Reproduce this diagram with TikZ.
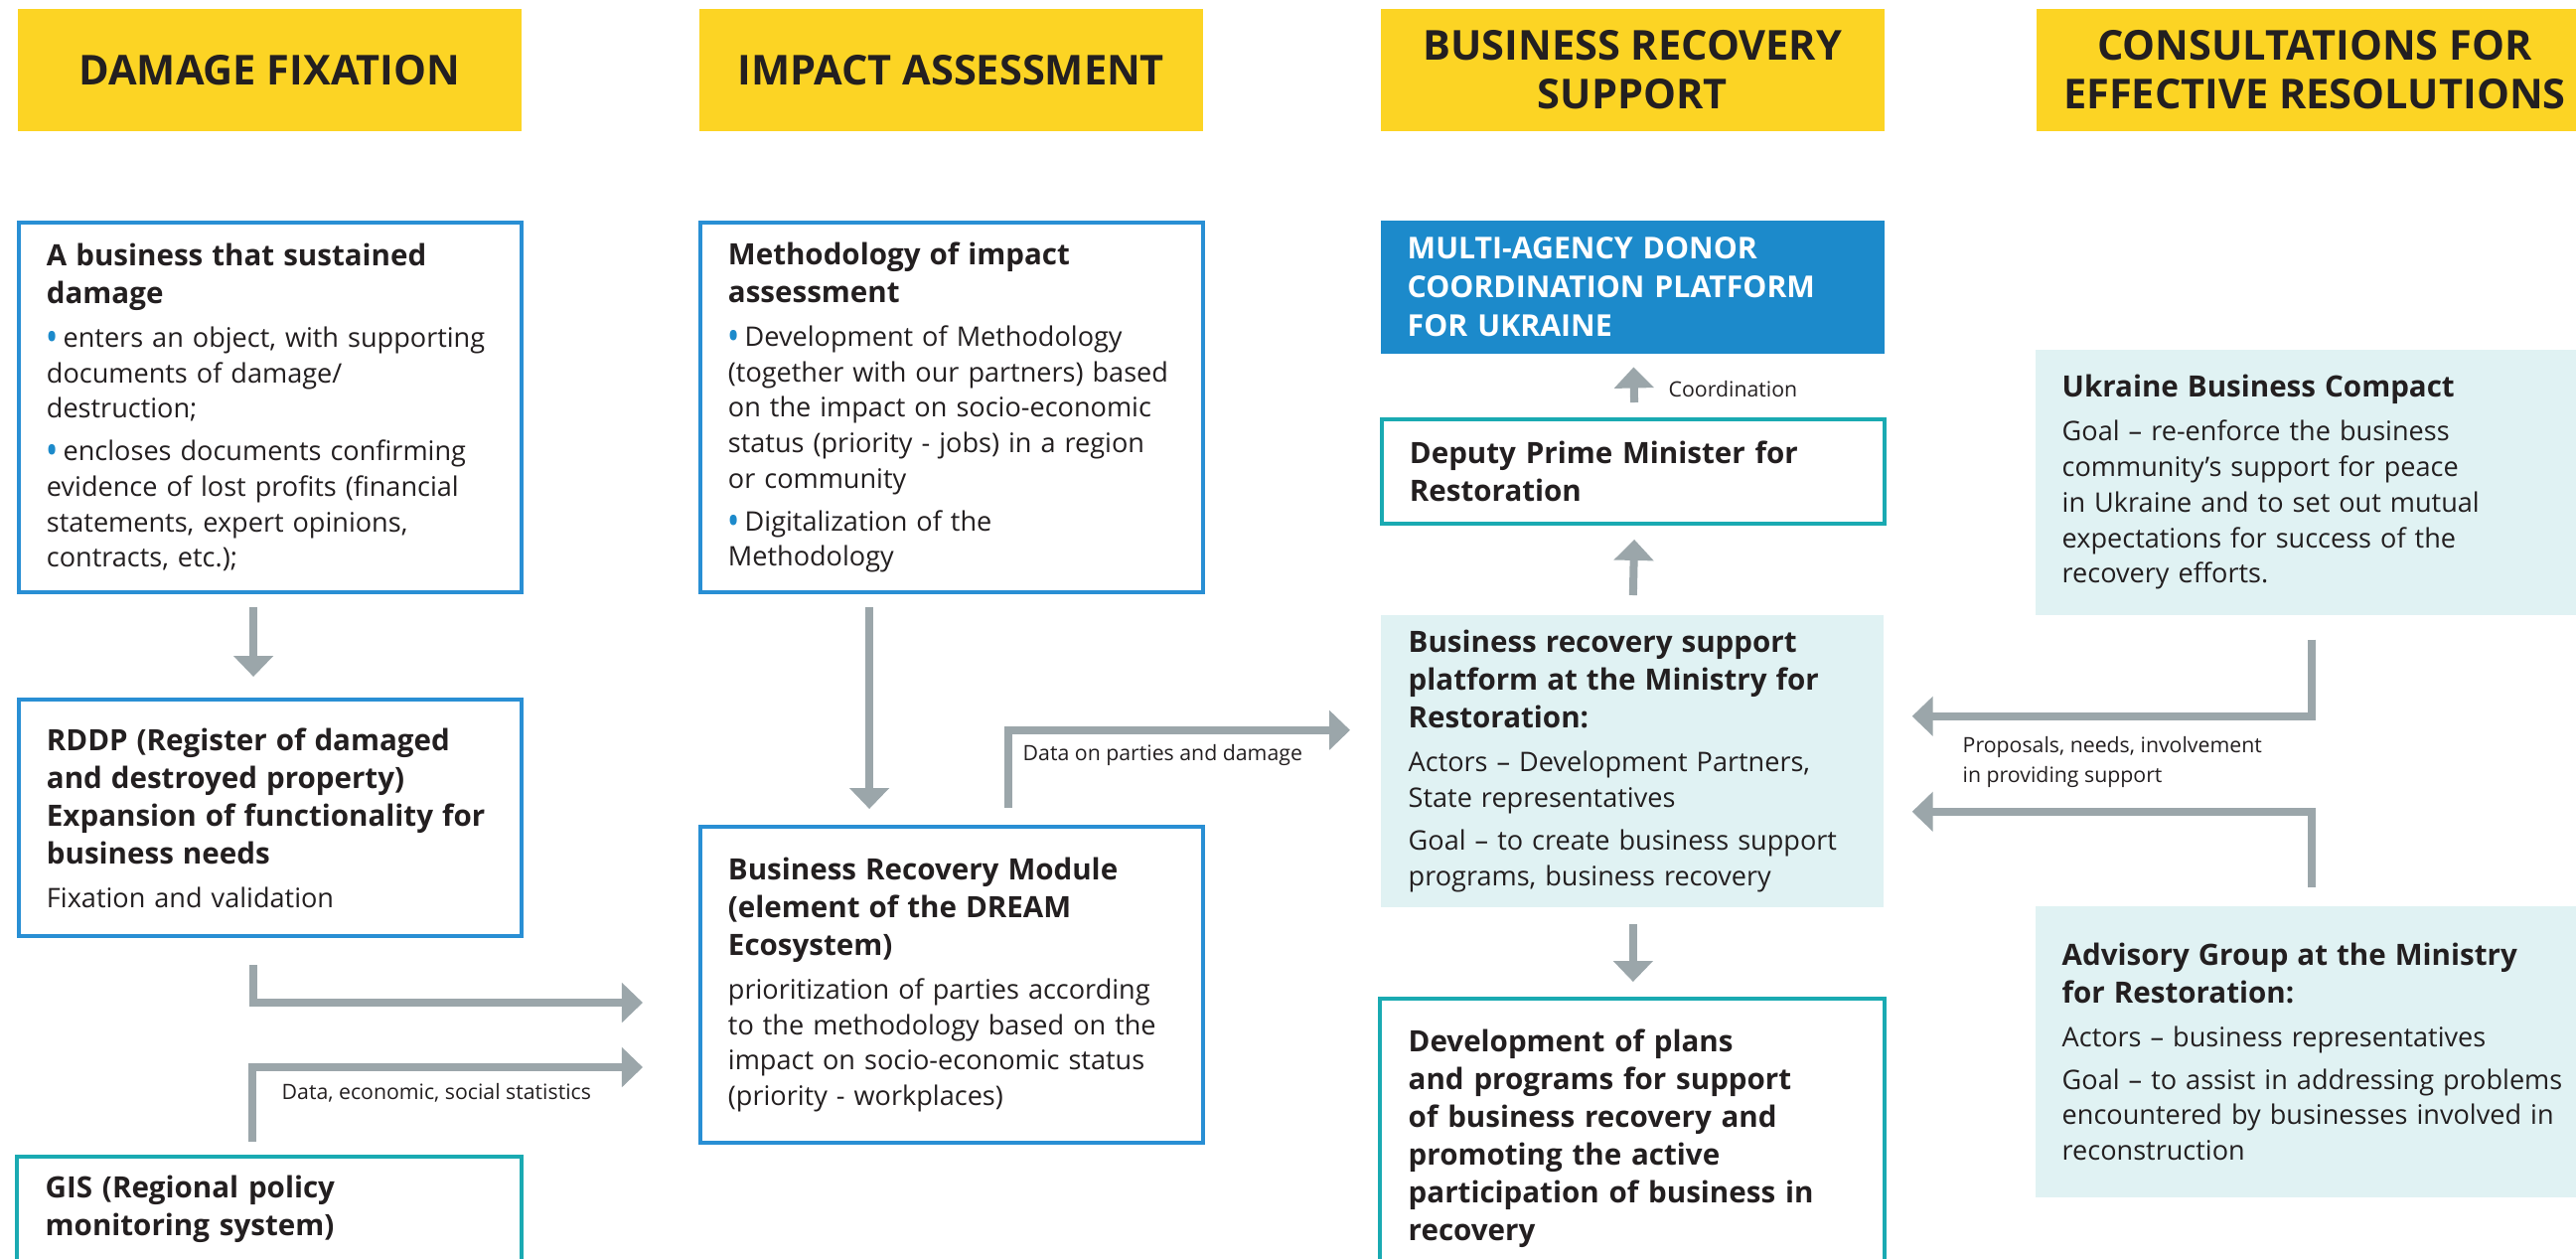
\documentclass[tikz,border=0pt]{standalone}
\usepackage{fontspec}
\setmainfont{Open Sans}
\usetikzlibrary{arrows.meta,calc,positioning}

\definecolor{hdryellow}{HTML}{FCD424}
\definecolor{frameblue}{HTML}{298FD4}
\definecolor{donorblue}{HTML}{1C8ACB}
\definecolor{frameteal}{HTML}{1AAAB2}
\definecolor{softcyan}{HTML}{E0F2F3}
\definecolor{arrgray}{HTML}{9BA6AA}
\definecolor{ink}{HTML}{231F20}

\newcommand{\boxtitle}[1]{{\fontsize{8.4}{10.8}\selectfont\bfseries #1\par}\vspace{2.4pt}}
\newcommand{\dotitem}{\textcolor{donorblue}{\raisebox{-0.18em}{\scalebox{1.2}[1.6]{\textbullet}}}\,}
\newcommand{\paragap}{\par\vspace{2.1pt}}

\tikzset{
  hdr/.style={fill=hdryellow, anchor=north west, minimum width=5.07cm, minimum height=1.23cm,
    align=center, text=ink, inner sep=0pt, font=\fontsize{11.8}{14}\bfseries\selectfont},
  box/.style={anchor=north west, minimum width=5.06cm, text width=4.5cm, inner xsep=0.28cm,
    inner ysep=0.1cm, align=left, text=ink, font=\fontsize{7.7}{10.15}\selectfont},
  bluebox/.style={box, draw=frameblue, line width=1.1pt},
  tealbox/.style={box, draw=frameteal, line width=1.1pt},
  softbox/.style={box, fill=softcyan},
  boldtext/.style={font=\fontsize{8.4}{10.8}\bfseries\selectfont},
  tealline/.style={draw=frameteal, line width=1.1pt},
  garrow/.style={draw=arrgray, line width=0.08cm, -{Triangle[width=0.39cm,length=0.21cm]}},
  lbl/.style={anchor=west, align=left, text=ink, inner sep=0pt, font=\fontsize{6.05}{8.4}\selectfont},
}

\begin{document}
\begin{tikzpicture}[x=0.01cm, y=-0.01cm]
\useasboundingbox (0,0) rectangle (2593,1266);
\clip (0,0) rectangle (2593,1266);
\fill[white] (0,0) rectangle (2593,1266);

% column headers
\node[hdr] (hfix) at (17,8) {DAMAGE FIXATION};
\node[hdr] (himpact) at (703,8) {IMPACT ASSESSMENT};
\node[hdr] (hsupport) at (1389,8) {BUSINESS RECOVERY\\SUPPORT};
\node[hdr, minimum width=5.6cm] (hconsult) at (2049,8) {CONSULTATIONS FOR\\EFFECTIVE RESOLUTIONS};

% damage fixation
\node[bluebox, minimum height=3.72cm] (damage) at (17,222) {\boxtitle{A business that sustained\\damage}
\dotitem enters an object, with supporting\\documents of damage/\\destruction;\paragap
\dotitem encloses documents confirming\\evidence of lost profits (financial\\statements, expert opinions,\\contracts, etc.);};
\node[bluebox, minimum height=2.38cm] (rddp) at (17,702) {\boxtitle{RDDP (Register of damaged\\and destroyed property)\\Expansion of functionality for\\business needs}
Fixation and validation};
\node[box, boldtext, inner ysep=0.18cm] (gis) at (17,1164) {GIS (Regional policy\\monitoring system)};
\draw[tealline] ([yshift=-3cm]gis.south west) |- (gis.north east) -- ++(0,300);

% impact assessment
\node[bluebox, minimum height=3.72cm] (method) at (703,222) {\boxtitle{Methodology of impact\\assessment}
\dotitem Development of Methodology\\(together with our partners) based\\on the impact on socio-economic\\status (priority - jobs) in a region\\or community\paragap
\dotitem Digitalization of the\\Methodology};
\node[bluebox, minimum height=3.18cm] (module) at (703,830) {\boxtitle{Business Recovery Module\\(element of the DREAM\\Ecosystem)}
prioritization of parties according\\to the methodology based on the\\impact on socio-economic status\\(priority - workplaces)};

% business recovery support
\node[box, fill=donorblue, text=white, minimum height=1.34cm, inner xsep=0.27cm, text width=4.53cm,
  font=\fontsize{8.6}{11}\bfseries\selectfont] (donor) at (1389,221) {MULTI-AGENCY DONOR\\COORDINATION PLATFORM\\FOR UKRAINE};
\node[tealbox, boldtext, minimum height=1.05cm] (deputy) at (1389,420) {Deputy Prime Minister for\\Restoration};
\node[softbox, minimum height=2.94cm] (platform) at (1389,618) {\boxtitle{Business recovery support\\platform at the Ministry for\\Restoration:}
Actors \textendash{} Development Partners,\\State representatives\paragap
Goal \textendash{} to create business support\\programs, business recovery};
\node[box, boldtext, inner ysep=0.3cm] (devel) at (1389,1005) {Development of plans\\and programs for support\\of business recovery and\\promoting the active\\participation of business in\\recovery};
\draw[tealline] ([yshift=-3cm]devel.south west) |- (devel.north east) -- ++(0,300);

% consultations
\node[softbox, minimum height=2.67cm, text width=5.2cm, inner xsep=0.27cm] (compact) at (2048,351) {\boxtitle{Ukraine Business Compact}
Goal \textendash{} re-enforce the business\\community’s support for peace\\in Ukraine and to set out mutual\\expectations for success of the\\recovery efforts.};
\node[softbox, minimum height=2.93cm, text width=5.2cm, inner xsep=0.27cm] (advisory) at (2048,911) {\boxtitle{Advisory Group at the Ministry\\for Restoration:}
Actors \textendash{} business representatives\paragap
Goal \textendash{} to assist in addressing problems\\encountered by businesses involved in\\reconstruction};

% connectors
\draw[garrow] ($(damage.south)+(-17,13)$) -- ($(rddp.north)+(-17,-21)$);
\draw[garrow] ($(method.south)+(-83,13)$) -- ($(module.north)+(-83,-16)$);
\draw[garrow] ($(rddp.south)+(-17,27)$) |- ($(module.west)+(-56,18)$);
\draw[garrow] ($(gis.north)+(-17,-15)$) |- ($(module.west)+(-56,83)$);
\draw[garrow] ($(module.north)+(57,-17)$) |- ($(platform.west)+(-30,-31)$);
\draw[garrow] ($(deputy.north)+(1,-15)$) -- ($(donor.south)+(1,13)$);
\draw[garrow] ($(platform.north)+(1,-19)$) -- ($(deputy.south)+(1,14)$);
\draw[garrow] ($(platform.south)+(1,16)$) -- ($(devel.north)+(1,-17)$);
\draw[garrow] ($(compact.south)+(-9,24)$) |- ($(platform.east)+(28,-45)$);
\draw[garrow] ($(advisory.north)+(-9,-18)$) |- ($(platform.east)+(28,51)$);

% connector labels
\node[lbl] (coordlbl) at (1679,392) {Coordination};
\node[lbl] (partieslbl) at (1029,760) {Data on parties and damage};
\node[lbl] (statslbl) at (283,1100) {Data, economic, social statistics};
\node[lbl] (proposlbl) at (1975,767) {Proposals, needs, involvement\\in providing support};
\end{tikzpicture}
\end{document}
